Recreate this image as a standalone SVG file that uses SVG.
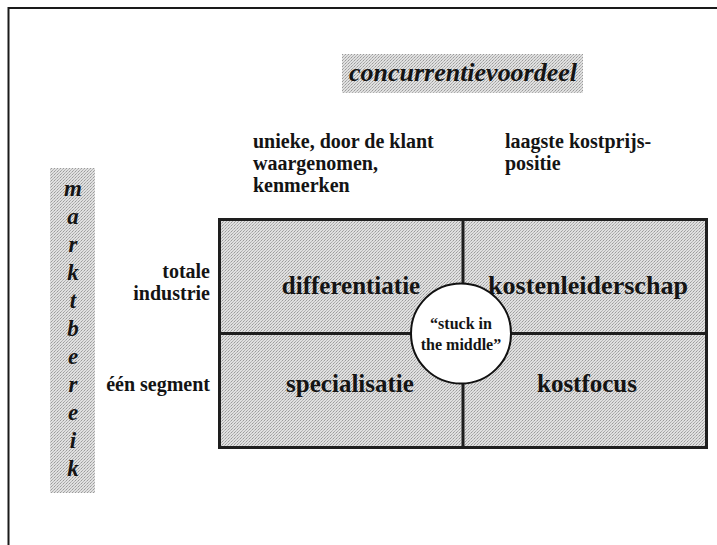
<svg xmlns="http://www.w3.org/2000/svg" width="717" height="545" viewBox="0 0 717 545">
  <defs>
    <!-- halftone-like gray used for the shaded boxes -->
    <pattern id="dots" width="3" height="3" patternUnits="userSpaceOnUse">
      <rect width="3" height="3" fill="#e0e0e0"/>
      <rect x="0" y="0" width="1" height="1" fill="#9a9a9a"/>
      <rect x="2" y="1" width="1" height="1" fill="#b8b8b8"/>
      <rect x="1" y="2" width="1" height="1" fill="#acacac"/>
    </pattern>
    <style>
      .frame { stroke: #1a1a1a; stroke-width: 2; fill: none; }
      .shade { fill: url(#dots); }
      .lbl { font-family: "Liberation Serif", "Times New Roman", serif; font-weight: bold; fill: #141414; }
      .it { font-style: italic; }
      .cell { font-size: 25px; text-anchor: middle; }
      .side { font-size: 20px; }
      .vert { font-size: 23px; text-anchor: middle; }
      .div { stroke: #1e1e1e; stroke-width: 3; }
    </style>
  </defs>

  <rect width="717" height="545" fill="#ffffff"/>

  <!-- page frame (top and left edges) -->
  <path class="frame" d="M8.5 545 V8 H717"/>

  <!-- heading -->
  <g id="heading">
    <rect class="shade" x="342" y="54" width="241" height="39"/>
    <text class="lbl it" x="463" y="81" font-size="25" text-anchor="middle" textLength="228" lengthAdjust="spacingAndGlyphs">concurrentievoordeel</text>
  </g>

  <!-- column headings -->
  <g id="col-unique">
    <text class="lbl side" x="253" y="148">unieke, door de klant</text>
    <text class="lbl side" x="253" y="170">waargenomen,</text>
    <text class="lbl side" x="253" y="192">kenmerken</text>
  </g>
  <g id="col-cost">
    <text class="lbl side" x="505" y="148">laagste kostprijs-</text>
    <text class="lbl side" x="505" y="170">positie</text>
  </g>

  <!-- vertical axis label -->
  <g id="axis-market">
    <rect class="shade" x="50" y="168" width="45" height="325"/>
    <g class="lbl it vert">
      <text x="73" y="196">m</text>
      <text x="73" y="224">a</text>
      <text x="73" y="252">r</text>
      <text x="73" y="280">k</text>
      <text x="73" y="308">t</text>
      <text x="73" y="336">b</text>
      <text x="73" y="364">e</text>
      <text x="73" y="392">r</text>
      <text x="73" y="420">e</text>
      <text x="73" y="448">i</text>
      <text x="73" y="476">k</text>
    </g>
  </g>

  <!-- row headings -->
  <g id="row-total">
    <text class="lbl side" x="210" y="278" text-anchor="end">totale</text>
    <text class="lbl side" x="210" y="300" text-anchor="end">industrie</text>
  </g>
  <g id="row-segment">
    <text class="lbl side" x="210" y="391" text-anchor="end">één segment</text>
  </g>

  <!-- strategy matrix cells -->
  <g id="cell-differentiatie">
    <rect class="shade" x="220" y="220" width="243" height="113"/>
    <text class="lbl cell" x="351" y="294">differentiatie</text>
  </g>
  <g id="cell-kostenleiderschap">
    <rect class="shade" x="463" y="220" width="243" height="113"/>
    <text class="lbl cell" x="588" y="294" textLength="200" lengthAdjust="spacingAndGlyphs">kostenleiderschap</text>
  </g>
  <g id="cell-specialisatie">
    <rect class="shade" x="220" y="333" width="243" height="114"/>
    <text class="lbl cell" x="350" y="392">specialisatie</text>
  </g>
  <g id="cell-kostfocus">
    <rect class="shade" x="463" y="333" width="243" height="114"/>
    <text class="lbl cell" x="587" y="392">kostfocus</text>
  </g>

  <!-- matrix borders and dividers -->
  <g id="grid-lines">
    <rect x="219.5" y="219.5" width="487" height="228" fill="none" stroke="#1e1e1e" stroke-width="3"/>
    <line class="div" x1="463" y1="219" x2="463" y2="448"/>
    <line class="div" x1="219" y1="333.5" x2="707" y2="333.5"/>
  </g>

  <!-- centre: stuck in the middle -->
  <g id="stuck-in-the-middle">
    <circle cx="461" cy="333.5" r="50" fill="#ffffff" stroke="#111111" stroke-width="2"/>
    <text class="lbl" x="461" y="329" font-size="16" text-anchor="middle">“stuck in</text>
    <text class="lbl" x="461" y="350" font-size="16" text-anchor="middle">the middle”</text>
  </g>
</svg>
